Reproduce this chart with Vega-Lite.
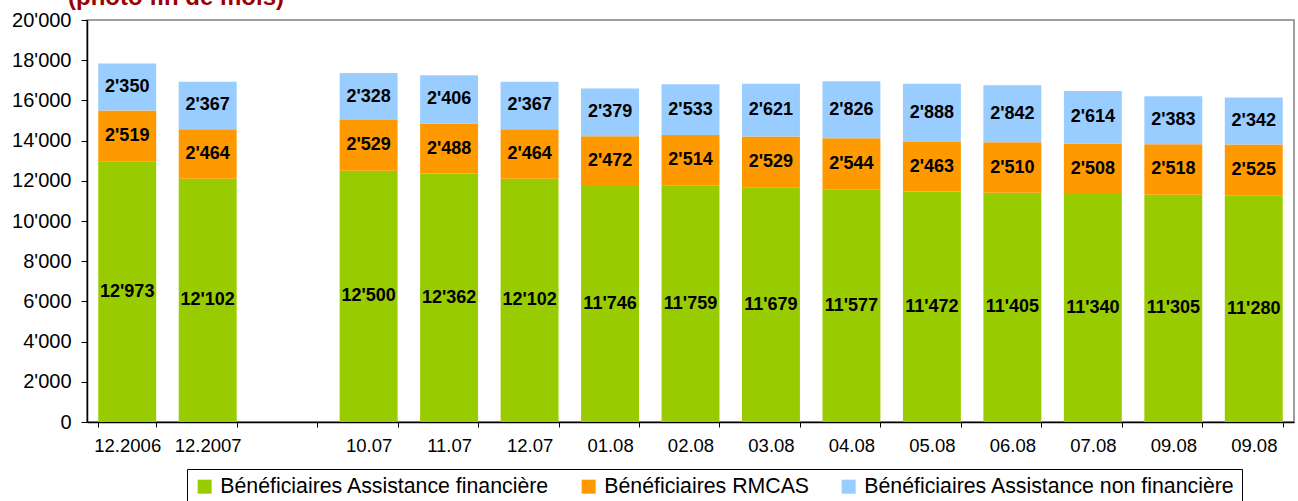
{
  "$schema": "https://vega.github.io/schema/vega-lite/v6.json",
  "width": 1207,
  "height": 402,
  "autosize": {"type": "none"},
  "padding": {"left": 87, "top": 20, "right": 4, "bottom": 79},
  "title": {
    "text": "(photo fin de mois)",
    "anchor": "start",
    "frame": "group",
    "font": "Liberation Sans",
    "fontSize": 24,
    "fontWeight": "bold",
    "color": "#990000",
    "baseline": "alphabetic",
    "dx": -19,
    "dy": 23,
    "offset": 4
  },
  "data": {
    "values": [
      {"mois": "12.2006", "serie": "Bénéficiaires Assistance financière", "rang": 1, "n": 12973},
      {"mois": "12.2006", "serie": "Bénéficiaires RMCAS", "rang": 2, "n": 2519},
      {"mois": "12.2006", "serie": "Bénéficiaires Assistance non financière", "rang": 3, "n": 2350},
      {"mois": "12.2007", "serie": "Bénéficiaires Assistance financière", "rang": 1, "n": 12102},
      {"mois": "12.2007", "serie": "Bénéficiaires RMCAS", "rang": 2, "n": 2464},
      {"mois": "12.2007", "serie": "Bénéficiaires Assistance non financière", "rang": 3, "n": 2367},
      {"mois": "10.07", "serie": "Bénéficiaires Assistance financière", "rang": 1, "n": 12500},
      {"mois": "10.07", "serie": "Bénéficiaires RMCAS", "rang": 2, "n": 2529},
      {"mois": "10.07", "serie": "Bénéficiaires Assistance non financière", "rang": 3, "n": 2328},
      {"mois": "11.07", "serie": "Bénéficiaires Assistance financière", "rang": 1, "n": 12362},
      {"mois": "11.07", "serie": "Bénéficiaires RMCAS", "rang": 2, "n": 2488},
      {"mois": "11.07", "serie": "Bénéficiaires Assistance non financière", "rang": 3, "n": 2406},
      {"mois": "12.07", "serie": "Bénéficiaires Assistance financière", "rang": 1, "n": 12102},
      {"mois": "12.07", "serie": "Bénéficiaires RMCAS", "rang": 2, "n": 2464},
      {"mois": "12.07", "serie": "Bénéficiaires Assistance non financière", "rang": 3, "n": 2367},
      {"mois": "01.08", "serie": "Bénéficiaires Assistance financière", "rang": 1, "n": 11746},
      {"mois": "01.08", "serie": "Bénéficiaires RMCAS", "rang": 2, "n": 2472},
      {"mois": "01.08", "serie": "Bénéficiaires Assistance non financière", "rang": 3, "n": 2379},
      {"mois": "02.08", "serie": "Bénéficiaires Assistance financière", "rang": 1, "n": 11759},
      {"mois": "02.08", "serie": "Bénéficiaires RMCAS", "rang": 2, "n": 2514},
      {"mois": "02.08", "serie": "Bénéficiaires Assistance non financière", "rang": 3, "n": 2533},
      {"mois": "03.08", "serie": "Bénéficiaires Assistance financière", "rang": 1, "n": 11679},
      {"mois": "03.08", "serie": "Bénéficiaires RMCAS", "rang": 2, "n": 2529},
      {"mois": "03.08", "serie": "Bénéficiaires Assistance non financière", "rang": 3, "n": 2621},
      {"mois": "04.08", "serie": "Bénéficiaires Assistance financière", "rang": 1, "n": 11577},
      {"mois": "04.08", "serie": "Bénéficiaires RMCAS", "rang": 2, "n": 2544},
      {"mois": "04.08", "serie": "Bénéficiaires Assistance non financière", "rang": 3, "n": 2826},
      {"mois": "05.08", "serie": "Bénéficiaires Assistance financière", "rang": 1, "n": 11472},
      {"mois": "05.08", "serie": "Bénéficiaires RMCAS", "rang": 2, "n": 2463},
      {"mois": "05.08", "serie": "Bénéficiaires Assistance non financière", "rang": 3, "n": 2888},
      {"mois": "06.08", "serie": "Bénéficiaires Assistance financière", "rang": 1, "n": 11405},
      {"mois": "06.08", "serie": "Bénéficiaires RMCAS", "rang": 2, "n": 2510},
      {"mois": "06.08", "serie": "Bénéficiaires Assistance non financière", "rang": 3, "n": 2842},
      {"mois": "07.08", "serie": "Bénéficiaires Assistance financière", "rang": 1, "n": 11340},
      {"mois": "07.08", "serie": "Bénéficiaires RMCAS", "rang": 2, "n": 2508},
      {"mois": "07.08", "serie": "Bénéficiaires Assistance non financière", "rang": 3, "n": 2614},
      {"mois": "09.08", "serie": "Bénéficiaires Assistance financière", "rang": 1, "n": 11305},
      {"mois": "09.08", "serie": "Bénéficiaires RMCAS", "rang": 2, "n": 2518},
      {"mois": "09.08", "serie": "Bénéficiaires Assistance non financière", "rang": 3, "n": 2383},
      {"mois": "09.08b", "serie": "Bénéficiaires Assistance financière", "rang": 1, "n": 11280},
      {"mois": "09.08b", "serie": "Bénéficiaires RMCAS", "rang": 2, "n": 2525},
      {"mois": "09.08b", "serie": "Bénéficiaires Assistance non financière", "rang": 3, "n": 2342}
    ]
  },
  "encoding": {
    "x": {
      "field": "mois",
      "type": "nominal",
      "title": null,
      "scale": {
        "domain": ["12.2006", "12.2007", "vide", "10.07", "11.07", "12.07", "01.08", "02.08", "03.08", "04.08", "05.08", "06.08", "07.08", "09.08", "09.08b"],
        "paddingInner": 0.28,
        "paddingOuter": 0.14
      },
      "axis": {
        "labelAngle": 0,
        "labelExpr": "isString(datum.value) && datum.value != 'vide' ? replace(datum.value, 'b', '') : ''",
        "labelFontSize": 18.5,
        "labelPadding": 9,
        "tickBand": "extent",
        "tickSize": 5
      }
    },
    "y": {
      "field": "n",
      "type": "quantitative",
      "stack": "zero",
      "title": null,
      "scale": {"domain": [0, 20000], "nice": false},
      "axis": {
        "values": [0, 2000, 4000, 6000, 8000, 10000, 12000, 14000, 16000, 18000, 20000],
        "labelExpr": "datum.value >= 1000 ? floor(datum.value / 1000) + \"'000\" : '0'",
        "grid": false,
        "labelFontSize": 20,
        "labelPadding": 10,
        "tickSize": 6
      }
    },
    "order": {"field": "rang", "type": "quantitative"}
  },
  "layer": [
    {
      "mark": {"type": "bar"},
      "encoding": {
        "color": {
          "field": "serie",
          "type": "nominal",
          "scale": {
            "domain": ["Bénéficiaires Assistance financière", "Bénéficiaires RMCAS", "Bénéficiaires Assistance non financière"],
            "range": ["#99CC00", "#FF9900", "#99CCFF"]
          },
          "legend": {
            "title": null,
            "orient": "none",
            "direction": "horizontal",
            "legendX": 100,
            "legendY": 449,
            "strokeColor": "black",
            "fillColor": "white",
            "padding": 7,
            "symbolType": "square",
            "symbolSize": 196,
            "symbolStrokeWidth": 0,
            "labelFontSize": 21.3,
            "labelOffset": 5,
            "labelLimit": 0,
            "columnPadding": 28
          }
        }
      }
    },
    {
      "mark": {"type": "text", "font": "Liberation Sans", "fontSize": 18, "fontWeight": "bold", "color": "black", "baseline": "middle"},
      "encoding": {
        "y": {"field": "n", "type": "quantitative", "stack": "zero", "bandPosition": 0.5},
        "text": {"field": "n", "type": "quantitative", "format": ","}
      }
    }
  ],
  "config": {
    "locale": {
      "number": {"decimal": ".", "thousands": "'", "grouping": [3], "currency": ["", ""]}
    },
    "font": "Liberation Sans",
    "view": {"stroke": "#808080", "strokeWidth": 1.5},
    "axis": {
      "labelFont": "Liberation Sans",
      "labelColor": "black",
      "domainColor": "black",
      "domainWidth": 1.5,
      "tickColor": "black",
      "tickWidth": 1
    },
    "legend": {"labelFont": "Liberation Sans", "labelColor": "black"}
  }
}
